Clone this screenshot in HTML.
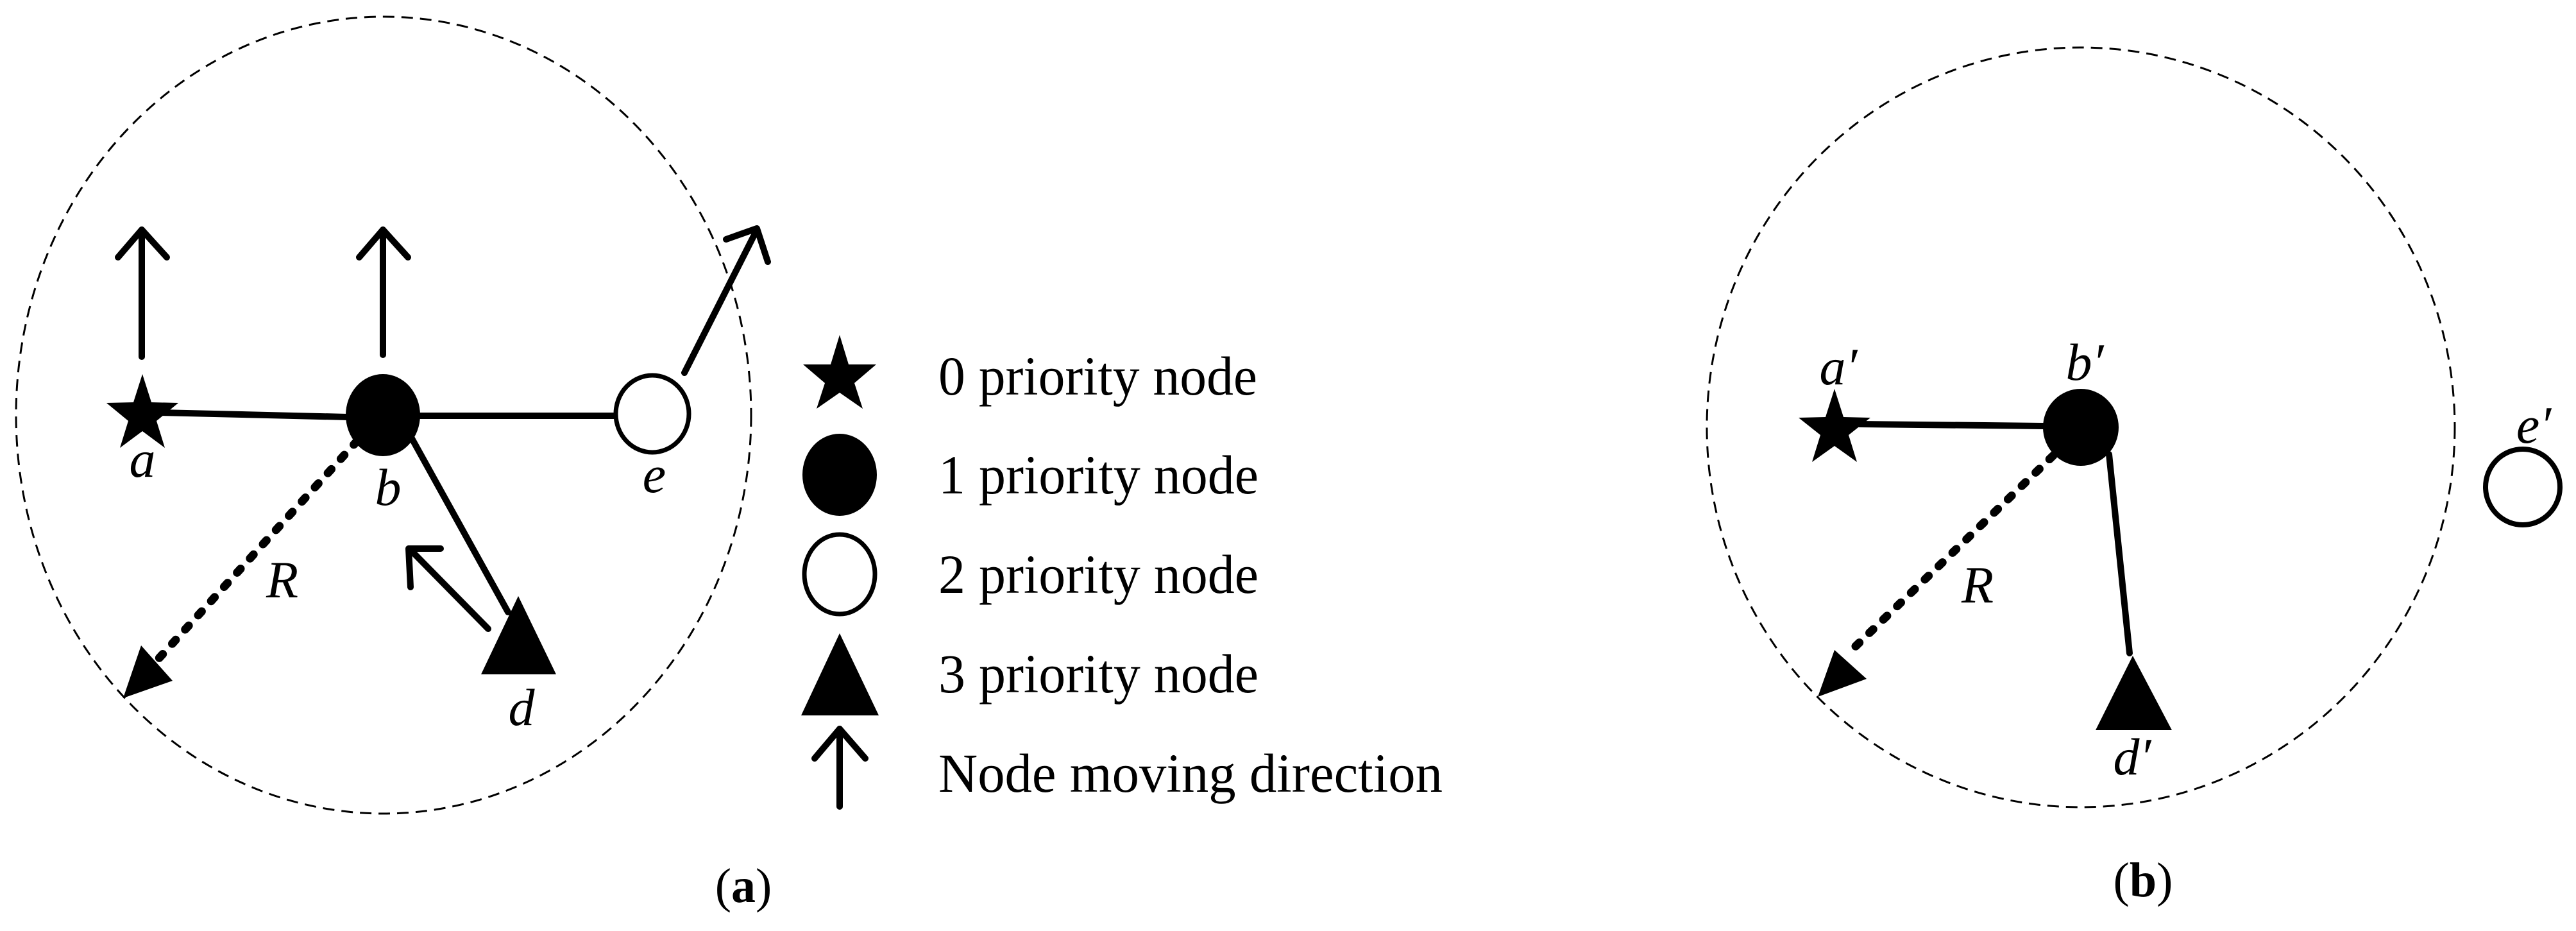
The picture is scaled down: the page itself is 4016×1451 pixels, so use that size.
<!DOCTYPE html>
<html><head><meta charset="utf-8"><style>html,body{margin:0;padding:0;background:#fff}svg{display:block}</style></head>
<body>
<svg width="4016" height="1451" viewBox="0 0 4016 1451" xmlns="http://www.w3.org/2000/svg" font-family="'Liberation Serif', serif">
<rect width="4016" height="1451" fill="#fff"/>
<!-- (a) -->
<ellipse cx="598" cy="647" rx="573" ry="621" fill="none" stroke="#000" stroke-width="3" stroke-dasharray="18 11"/>
<g stroke="#000" stroke-width="10" fill="none" stroke-linecap="round" stroke-linejoin="round">
<line x1="249" y1="643" x2="543" y2="650"/>
<line x1="655" y1="648" x2="958" y2="648"/>
<line x1="638" y1="676" x2="792" y2="954"/>
<line x1="221" y1="556" x2="221" y2="358"/><polyline points="184,401 221,358 260,401"/>
<line x1="597" y1="553" x2="597" y2="358"/><polyline points="560,401 597,358 636,401"/>
<line x1="1067" y1="581" x2="1180" y2="358"/><polyline points="1132,373 1180,356 1197,408"/>
<line x1="761" y1="980" x2="640" y2="857"/><polyline points="640,915 637,855 687,855"/>
<line x1="557" y1="687" x2="245" y2="1029" stroke-width="13" stroke-dasharray="8 22"/>
<line x1="1309" y1="1257" x2="1309" y2="1136"/><polyline points="1270,1182 1309,1136 1349,1182"/>
</g>
<polygon points="192,1088 220,1006 269,1061" fill="#000"/>
<polygon points="222,583 236,627 278,628 244,656 257,698 222,672 187,698 200,656 166,628 208,627" fill="#000"/>
<ellipse cx="597" cy="647" rx="58" ry="64" fill="#000"/>
<ellipse cx="1017" cy="645" rx="57" ry="60" fill="#fff" stroke="#000" stroke-width="7"/>
<polygon points="808,929 750,1051 867,1051" fill="#000"/>
<g font-style="italic" font-size="82" text-anchor="middle">
<text x="222" y="743">a</text>
<text x="605" y="787">b</text>
<text x="1020" y="767">e</text>
<text x="813" y="1130">d</text>
<text x="440" y="931">R</text>
</g>
<!-- legend -->
<polygon points="1309,522 1323,568 1366,568 1332,597 1345,637 1309,612 1273,637 1286,597 1252,568 1295,568" fill="#000"/>
<ellipse cx="1309" cy="740" rx="58" ry="64" fill="#000"/>
<ellipse cx="1309" cy="895" rx="55" ry="62" fill="#fff" stroke="#000" stroke-width="7"/>
<polygon points="1309,987 1249,1115 1370,1115" fill="#000"/>
<g font-size="86">
<text x="1463" y="615" textLength="497" lengthAdjust="spacingAndGlyphs">0 priority node</text>
<text x="1463" y="769" textLength="499" lengthAdjust="spacingAndGlyphs">1 priority node</text>
<text x="1463" y="924" textLength="499" lengthAdjust="spacingAndGlyphs">2 priority node</text>
<text x="1463" y="1079" textLength="499" lengthAdjust="spacingAndGlyphs">3 priority node</text>
<text x="1463" y="1234" textLength="786" lengthAdjust="spacingAndGlyphs">Node moving direction</text>
</g>
<text x="1159" y="1406" font-size="76" text-anchor="middle">(<tspan font-weight="bold">a</tspan>)</text>
<!-- (b) -->
<ellipse cx="3244" cy="666" rx="583" ry="592" fill="none" stroke="#000" stroke-width="3" stroke-dasharray="18 11"/>
<g stroke="#000" stroke-width="10" fill="none" stroke-linecap="round">
<line x1="2898" y1="661" x2="3187" y2="664"/>
<line x1="3288" y1="708" x2="3320" y2="1018"/>
<line x1="3201" y1="710" x2="2890" y2="1010" stroke-width="13" stroke-dasharray="8 22"/>
</g>
<polygon points="2834,1086 2860,1013 2910,1058" fill="#000"/>
<polygon points="2860,606 2874,650 2916,651 2882,678 2895,720 2860,695 2825,720 2838,678 2804,651 2846,650" fill="#000"/>
<ellipse cx="3244" cy="666" rx="59" ry="60" fill="#000"/>
<polygon points="3325,1022 3267,1138 3386,1138" fill="#000"/>
<ellipse cx="3933" cy="759" rx="58" ry="59" fill="#fff" stroke="#000" stroke-width="8"/>
<g font-style="italic" font-size="82" text-anchor="middle">
<text x="2866" y="599">a′</text>
<text x="3250" y="592">b′</text>
<text x="3324" y="1207">d′</text>
<text x="3950" y="690">e′</text>
<text x="3083" y="939">R</text>
</g>
<text x="3341" y="1397" font-size="76" text-anchor="middle">(<tspan font-weight="bold">b</tspan>)</text>
</svg>
</body></html>
